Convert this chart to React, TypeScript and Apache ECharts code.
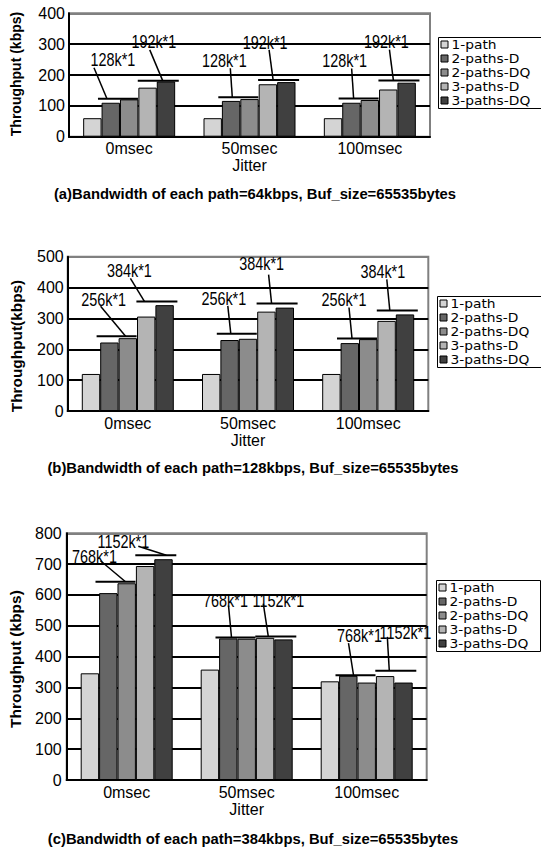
import React, { useEffect, useRef } from 'react';
import * as echarts from 'echarts';

const categories = ['0msec', '50msec', '100msec'];
const seriesNames = ['1-path', '2-paths-D', '2-paths-DQ', '3-paths-D', '3-paths-DQ'];

// Panel (a): 64 kbps per path
const a1Path = [60, 60, 60];
const a2PathsD = [110, 116, 110];
const a2PathsDQ = [121, 122, 119];
const a3PathsD = [159, 170, 153];
const a3PathsDQ = [179, 177, 175];
const aLine2 = [123, 128, 124];
const aLine3 = [181, 184, 182];
const aLabels = ['128k*1', '192k*1'];

// Panel (b): 128 kbps per path
const b1Path = [120, 120, 120];
const b2PathsD = [222, 230, 220];
const b2PathsDQ = [236, 234, 233];
const b3PathsD = [306, 322, 292];
const b3PathsDQ = [343, 335, 313];
const bLine2 = [242, 250, 235];
const bLine3 = [355, 348, 326];
const bLabels = ['256k*1', '384k*1'];

// Panel (c): 384 kbps per path
const c1Path = [346, 358, 320];
const c2PathsD = [606, 459, 338];
const c2PathsDQ = [638, 458, 316];
const c3PathsD = [694, 461, 337];
const c3PathsDQ = [716, 456, 316];
const cLine2 = [643, 462, 340];
const cLine3 = [729, 465, 354];
const cLabels = ['768k*1', '1152k*1'];

// ---- styling / layout (not data) ----
const COLORS = ['#d4d4d4', '#666666', '#8c8c8c', '#b4b4b4', '#404040'];
const BW = 18.4;
const FONT = 'Liberation Sans, Arial, sans-serif';
const LEGEND_FONT = 'DejaVu Sans, sans-serif';

// per annotation [labelDx, labelDy, leaderStartDx, leaderStartDy, leaderEndDx]
// order: g0-2p, g0-3p, g1-2p, g1-3p, g2-2p, g2-3p
const layoutA = [
  [-7, -39, -26, -31, -13],
  [-3, -39, -7, -31, 6],
  [-16, -37, -10, -29, -8],
  [-12, -38, -8, -30, -4],
  [-16, -38, -9, -30, -7],
  [-11, -39, -8, -31, -4],
];
const layoutB = [
  [-15, -37, -18, -30, 7],
  [-26, -31, -25, -23, -11],
  [-15, -35, -11, -28, -8],
  [-14, -40, -7, -29, -4],
  [-15, -39, -10, -31, -7],
  [-13, -39, -9, -31, -6],
];
const layoutC = [
  [-23, -25, -17, -21, 8],
  [-31, -14, -16, -9, 12],
  [-12, -37, -9, -32, -6],
  [4, -36, -11, -33, -6],
  [2, -40, -9, -32, -4],
  [11, -38, -7, -34, -5],
];

const panels = [
  {
    values: [a1Path, a2PathsD, a2PathsDQ, a3PathsD, a3PathsDQ],
    line2: aLine2, line3: aLine3, labels: aLabels, layout: layoutA,
    grid: { left: 69, top: 13.3, width: 361, height: 123.4 },
    max: 400, labelMargin: 4, nameGap: 19,
    legendPos: [438.5, 37.5],
    yTitle: 'Throughput (kbps)', yTitlePos: [16, 74], yTitleSize: 14,
    caption: '(a)Bandwidth of each path=64kbps, Buf_size=65535bytes', capPos: [255, 194],
  },
  {
    values: [b1Path, b2PathsD, b2PathsDQ, b3PathsD, b3PathsDQ],
    line2: bLine2, line3: bLine3, labels: bLabels, layout: layoutB,
    grid: { left: 67.7, top: 256.7, width: 360.6, height: 154.3 },
    max: 500, labelMargin: 4, nameGap: 21,
    legendPos: [437.5, 296.5],
    yTitle: 'Throughput(kbps)', yTitlePos: [16, 346], yTitleSize: 15.4,
    caption: '(b)Bandwidth of each path=128kbps, Buf_size=65535bytes', capPos: [253, 468],
  },
  {
    values: [c1Path, c2PathsD, c2PathsDQ, c3PathsD, c3PathsDQ],
    line2: cLine2, line3: cLine3, labels: cLabels, layout: layoutC,
    grid: { left: 66.7, top: 533.3, width: 360, height: 246.7 },
    max: 800, labelMargin: 5, nameGap: 21,
    legendPos: [436.5, 580.5],
    yTitle: 'Throughput (kbps)', yTitlePos: [15, 659], yTitleSize: 15.5,
    caption: '(c)Bandwidth of each path=384kbps, Buf_size=65535bytes', capPos: [253, 839],
  },
];

function makeRenderer(labels: string[], layout: number[][]) {
  return (params: any, api: any) => {
    const cat = api.value(0);
    const v = api.value(1);
    const kind = api.value(2);
    const pt = api.coord([cat, v]);
    const pc = pt[0] + (kind === 0 ? -0.5 : 1.5) * BW;
    const ly = pt[1];
    const L = layout[params.dataIndex];
    const x1 = pc + (kind === 0 ? -22 : -19);
    const x2 = pc + (kind === 0 ? 18 : 22);
    return {
      type: 'group',
      children: [
        { type: 'line', shape: { x1, y1: ly, x2, y2: ly }, style: { stroke: '#000', lineWidth: 2 } },
        {
          type: 'line',
          shape: { x1: pc + L[2], y1: ly + L[3], x2: pc + L[4], y2: ly },
          style: { stroke: '#000', lineWidth: 1.5 },
        },
        {
          type: 'text',
          x: pc + L[0],
          y: ly + L[1],
          scaleX: 0.8,
          style: {
            text: labels[kind],
            x: 0,
            y: 0,
            align: 'center',
            verticalAlign: 'middle',
            fontSize: 18,
            fontFamily: FONT,
            fill: '#000',
          },
        },
      ],
    };
  };
}

function legendGraphic(pos: number[]) {
  const children: any[] = [
    {
      type: 'rect',
      shape: { x: 0, y: 0, width: 104, height: 71 },
      style: { fill: '#fff', stroke: '#000', lineWidth: 1 },
    },
  ];
  seriesNames.forEach((name, i) => {
    children.push({
      type: 'rect',
      shape: { x: 2.5, y: 3.5 + i * 14, width: 7, height: 7 },
      style: { fill: COLORS[i], stroke: '#000', lineWidth: 1 },
    });
    children.push({
      type: 'text',
      x: 13,
      y: 7.5 + i * 14,
      scaleX: 1.15,
      style: {
        text: name,
        x: 0,
        y: 0,
        align: 'left',
        verticalAlign: 'middle',
        fontSize: 12,
        fontFamily: LEGEND_FONT,
        fill: '#000',
      },
    });
  });
  return { type: 'group', x: pos[0], y: pos[1], z: 20, children };
}

export default function App() {
  const ref = useRef<HTMLDivElement>(null);
  useEffect(() => {
    if (!ref.current) return;
    const chart = echarts.init(ref.current, null, { renderer: 'svg' });

    const grids: any[] = [];
    const xAxes: any[] = [];
    const yAxes: any[] = [];
    const series: any[] = [];
    const graphics: any[] = [];

    panels.forEach((p, pi) => {
      grids.push({
        ...p.grid,
        show: true,
        borderColor: '#808080',
        borderWidth: 2,
        backgroundColor: '#fff',
        containLabel: false,
        outerBoundsMode: 'none',
      });
      xAxes.push({
        type: 'category',
        gridIndex: pi,
        data: categories,
        name: 'Jitter',
        nameLocation: 'middle',
        nameGap: p.nameGap,
        nameTextStyle: { fontSize: 16, fontFamily: FONT, color: '#000' },
        axisLine: { show: true, lineStyle: { color: '#000', width: 2 } },
        axisTick: { show: false },
        axisLabel: { fontSize: 16, fontFamily: FONT, color: '#000', margin: 4 },
        splitLine: { show: false },
      });
      const nLines = p.max / 100 + 1;
      const lineColors = Array.from({ length: nLines }, (_, i) => (i === nLines - 1 ? '#808080' : '#000'));
      yAxes.push({
        type: 'value',
        gridIndex: pi,
        min: 0,
        max: p.max,
        interval: 100,
        axisLine: { show: true, lineStyle: { color: '#000', width: 2 } },
        axisTick: { show: false },
        axisLabel: { fontSize: 16, fontFamily: FONT, color: '#000', margin: p.labelMargin },
        splitLine: { show: true, lineStyle: { color: lineColors, width: 2 } },
      });
      seriesNames.forEach((name, si) => {
        series.push({
          type: 'bar',
          name,
          xAxisIndex: pi,
          yAxisIndex: pi,
          data: p.values[si],
          barWidth: BW,
          barGap: '0%',
          itemStyle: { color: COLORS[si], borderColor: '#000', borderWidth: 1 },
          emphasis: { disabled: true },
        });
      });
      const annotData: number[][] = [];
      categories.forEach((_, ci) => {
        annotData.push([ci, p.line2[ci], 0]);
        annotData.push([ci, p.line3[ci], 1]);
      });
      series.push({
        type: 'custom',
        xAxisIndex: pi,
        yAxisIndex: pi,
        data: annotData,
        encode: { x: 0, y: 1 },
        renderItem: makeRenderer(p.labels, p.layout),
        clip: false,
        z: 10,
        silent: true,
      });
      graphics.push(legendGraphic(p.legendPos));
      graphics.push({
        type: 'text',
        x: p.yTitlePos[0],
        y: p.yTitlePos[1],
        rotation: Math.PI / 2,
        style: {
          text: p.yTitle,
          align: 'center',
          verticalAlign: 'middle',
          fontSize: p.yTitleSize,
          fontWeight: 'bold',
          fontFamily: FONT,
          fill: '#000',
        },
      });
      graphics.push({
        type: 'text',
        x: p.capPos[0],
        y: p.capPos[1],
        style: {
          text: p.caption,
          align: 'center',
          verticalAlign: 'middle',
          fontSize: 14.8,
          fontWeight: 'bold',
          fontFamily: FONT,
          fill: '#000',
        },
      });
    });

    chart.setOption({
      animation: false,
      backgroundColor: '#fff',
      grid: grids,
      xAxis: xAxes,
      yAxis: yAxes,
      series,
      graphic: graphics,
    });
    return () => chart.dispose();
  }, []);
  return (
    <div
      ref={ref}
      style={{ position: 'absolute', left: 0, top: 0, width: 541, height: 850, background: '#fff' }}
    />
  );
}
